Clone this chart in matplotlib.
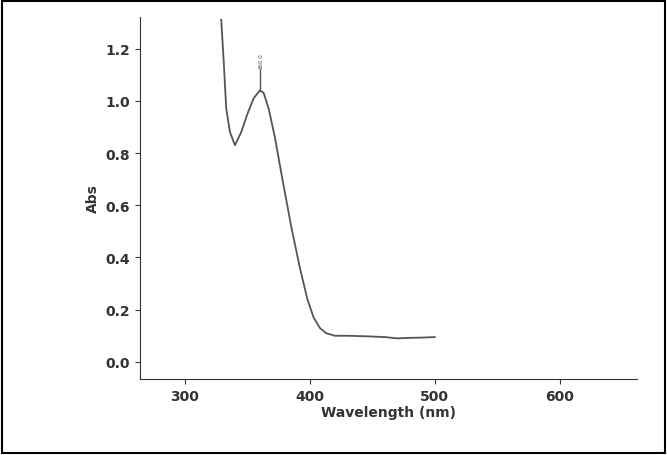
import numpy as np
import matplotlib.pyplot as plt
from matplotlib.patches import Rectangle

wavelength = [329, 331, 333, 336, 340, 345, 350, 355, 360, 363, 367, 372, 378, 385, 392, 398, 403, 408, 413, 420, 430, 445, 460, 470, 480, 490, 500]
absorbance = [1.31, 1.15, 0.97, 0.88, 0.83, 0.88, 0.95, 1.01, 1.04, 1.03, 0.97, 0.86, 0.70, 0.52, 0.36, 0.24, 0.17, 0.13, 0.11, 0.10, 0.10, 0.098, 0.095, 0.09, 0.092, 0.093, 0.095]
peak_x, peak_y = 360, 1.04
peak_label = "360.0"

fig = plt.figure(figsize=(6.67, 4.56), dpi=100)
ax = fig.add_axes([0.21, 0.167, 0.745, 0.793])
ax.plot(wavelength, absorbance, color="#555555", lw=1.3)
ax.plot([peak_x, peak_x], [peak_y, peak_y + 0.08], color="#555555", lw=1)
ax.text(peak_x + 1, peak_y + 0.085, peak_label, rotation=90, fontsize=4,
        ha="center", va="bottom", color="#555555")

ax.set_xlim(264, 662)
ax.set_ylim(-0.065, 1.32)
ax.set_xticks([300, 400, 500, 600])
ax.set_yticks(np.arange(0, 1.21, 0.2))
ax.set_yticklabels([f"{v:.1f}" for v in np.arange(0, 1.21, 0.2)])
for s in ["top", "right"]:
    ax.spines[s].set_visible(False)
for s in ["left", "bottom"]:
    ax.spines[s].set_color("#333333")
ax.tick_params(labelsize=10, colors="#333333")
for lbl in ax.get_xticklabels() + ax.get_yticklabels():
    lbl.set_fontweight("bold")
ax.set_xlabel("Wavelength (nm)", fontsize=10, fontweight="bold", color="#333333", labelpad=2)
ax.set_ylabel("Abs", fontsize=10, fontweight="bold", color="#333333")

fig.patches.append(Rectangle((0.003, 0.004), 0.994, 0.992, transform=fig.transFigure,
                             fill=False, edgecolor="black", lw=1.5))
fig.savefig("out.png", dpi=100)
